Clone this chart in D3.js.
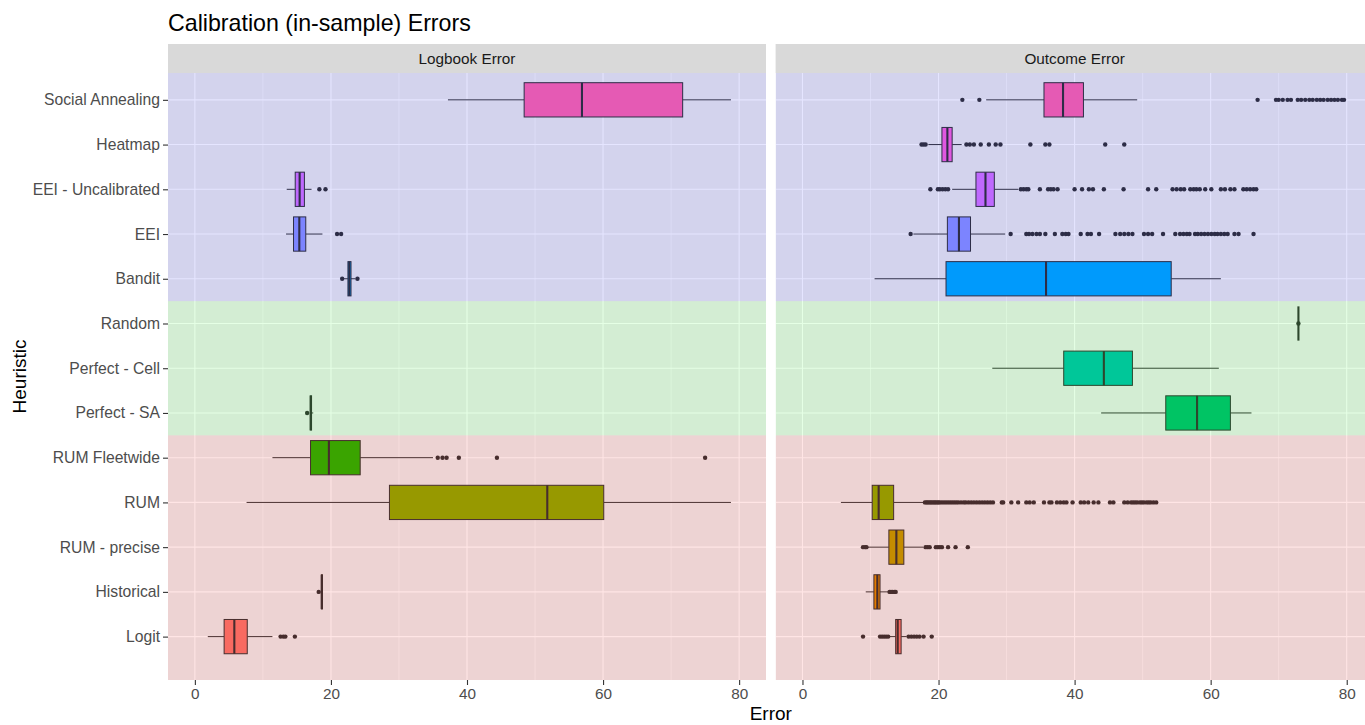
<!DOCTYPE html>
<html>
<head>
<meta charset="utf-8">
<script src="https://cdn.jsdelivr.net/npm/d3@7"></script>
<style>
  html, body { margin: 0; padding: 0; background: #ffffff; }
  svg { display: block; font-family: "Liberation Sans", Arial, sans-serif; }
</style>
</head>
<body>
<div class="container"></div>
<script>
// categories, bottom to top as ggplot draws them
const heuristics = ["Logit", "Historical", "RUM - precise", "RUM", "RUM Fleetwide",
  "Perfect - SA", "Perfect - Cell", "Random", "Bandit", "EEI", "EEI - Uncalibrated",
  "Heatmap", "Social Annealing"];
const panelNames = ["Logbook Error", "Outcome Error"];
const xTicks = [0, 20, 40, 60, 80];
const xMinorTicks = [10, 30, 50, 70];

// [lower whisker, Q1, median, Q3, upper whisker] per heuristic (null = no data)
const logbookStats = [
  [1.9, 4.3, 5.8, 7.7, 11.4],
  [18.5, 18.6, 18.65, 18.75, 18.8],
  null,
  [7.6, 28.6, 51.8, 60.1, 78.8],
  [11.4, 17.0, 19.7, 24.3, 35.0],
  [16.9, 16.95, 17.05, 17.15, 17.4],
  null,
  null,
  [21.9, 22.5, 22.7, 22.95, 23.6],
  [13.4, 14.5, 15.35, 16.3, 18.75],
  [13.5, 14.75, 15.4, 16.1, 17.15],
  null,
  [37.2, 48.4, 56.9, 71.7, 78.8]
];
const logbookOutliers = [
  [12.6, 13.0, 13.3, 14.7],
  [18.2],
  [],
  [],
  [35.7, 36.4, 37.0, 38.8, 44.4, 75.0],
  [16.5],
  [],
  [],
  [21.65, 23.9],
  [20.9, 21.5],
  [18.3, 19.2],
  [],
  []
];

const outcomeStats = [
  [12.75, 13.7, 14.0, 14.5, 15.3],
  [9.3, 10.5, 11.0, 11.4, 12.6],
  [9.6, 12.7, 13.8, 14.9, 17.75],
  [5.65, 10.25, 11.2, 13.4, 17.85],
  null,
  [43.9, 53.4, 58.0, 62.9, 66.0],
  [27.9, 38.4, 44.3, 48.5, 61.2],
  [72.9, 72.9, 72.9, 72.9, 72.9],
  [10.6, 21.1, 35.8, 54.2, 61.5],
  [16.3, 21.3, 23.0, 24.7, 29.8],
  [22.0, 25.5, 26.9, 28.2, 31.7],
  [18.5, 20.5, 21.3, 22.0, 23.4],
  [27.0, 35.5, 38.3, 41.3, 49.2]
];
const outcomeOutliers = [
  [8.9, 11.4, 11.7, 12.0, 12.3, 12.6, 15.6, 16.0, 16.4, 16.8, 17.2, 17.8, 19.0],
  [12.8, 13.0, 13.2, 13.5, 13.7],
  [8.9, 9.2, 9.4, 18.1, 18.4, 18.7, 19.6, 19.9, 20.2, 20.5, 21.4, 22.5, 24.3],
  [18.0, 18.2, 18.4, 18.6, 18.8, 19.0, 19.2, 19.4, 19.6, 19.8, 20.0, 20.2, 20.5,
   20.8, 21.1, 21.4, 21.7, 22.0, 22.3, 22.6, 22.9, 23.3, 23.7, 24.0, 24.4, 24.8,
   25.2, 25.6, 26.0, 26.4, 26.8, 27.2, 27.6, 28.0, 29.3, 29.5, 30.7, 31.7, 32.9,
   33.4, 34.0, 35.5, 36.3, 36.6, 37.4, 37.9, 38.4, 38.8, 39.7, 40.9, 41.4, 42.0,
   42.8, 43.5, 45.2, 45.7, 47.3, 47.8, 48.3, 48.6, 48.9, 49.2, 49.6, 49.9, 50.2,
   50.6, 50.9, 51.2, 51.6, 52.0],
  [],
  [],
  [],
  [72.9],
  [],
  [15.9, 30.6, 32.9, 33.3, 33.8, 34.4, 34.9, 35.7, 37.1, 38.2, 38.7, 39.1, 40.9,
   41.9, 42.4, 43.6, 46.0, 46.7, 47.3, 47.9, 48.5, 50.2, 50.8, 51.4, 53.0, 54.8,
   55.5, 56.0, 56.5, 56.9, 57.7, 58.1, 58.6, 59.1, 59.6, 60.1, 60.6, 61.0, 61.5,
   62.0, 62.5, 63.5, 64.1, 66.3],
  [18.8, 19.9, 20.2, 20.6, 21.0, 21.4, 32.1, 32.5, 32.9, 33.2, 34.9, 36.1, 36.5,
   36.9, 37.5, 40.0, 41.1, 42.1, 42.7, 44.3, 47.2, 50.8, 52.0, 54.4, 55.0, 55.6,
   56.1, 57.0, 57.5, 57.9, 58.4, 59.2, 60.1, 61.5, 62.1, 62.9, 63.5, 64.8, 65.3,
   65.8, 66.3, 66.7],
  [17.5, 17.8, 18.1, 24.1, 24.6, 25.2, 26.2, 27.4, 28.4, 29.1, 33.5, 35.7, 36.3,
   44.5, 47.3],
  [23.5, 26.0, 66.9, 69.6, 70.0, 70.6, 71.3, 71.8, 72.8, 73.3, 73.9, 74.5, 75.0,
   75.6, 76.1, 76.6, 77.2, 77.7, 78.2, 78.7, 79.3, 79.6]
];

// shaded groups, in category-position units (1 = Logit)
const bandEdges = [0, 5.5, 8.5, 14];
const bandColors = ["#FF0000", "#00FF00", "#0000FF"];

// ggplot2 default hue palette for 13 levels
const fillColors = ["#F8766D", "#E18A00", "#BE9C00", "#8CAB00", "#24B700", "#00BE70",
  "#00C1AB", "#00BBDA", "#00ACFC", "#8B93FF", "#D575FE", "#F962DD", "#FF65AC"];

const width = 1365, height = 725;
const panelTop = 73, panelBottom = 680, stripTop = 44;
const panelW = 598, panelLefts = [168, 775.6];

const svg = d3.select(".container")
  .append("svg")
  .attr("width", width)
  .attr("height", height);

const yPos = d3.scaleLinear()
  .domain([0.03, 13.6])
  .range([panelBottom, panelTop]);

const yCat = d3.scalePoint()
  .domain(heuristics)
  .range([yPos(1), yPos(heuristics.length)]);

const step = yPos(1) - yPos(2);
const boxH = step * 0.766;

const panelStats = [logbookStats, outcomeStats];
const panelOutliers = [logbookOutliers, outcomeOutliers];

panelNames.forEach(function(name, p) {
  const left = panelLefts[p];
  const x = d3.scaleLinear()
    .domain([-3.95, 83.95])
    .range([left, left + panelW]);

  svg.append("clipPath")
    .attr("id", "clip" + p)
    .append("rect")
    .attr("x", left).attr("y", panelTop)
    .attr("width", panelW).attr("height", panelBottom - panelTop);

  const g = svg.append("g").attr("clip-path", "url(#clip" + p + ")");

  g.append("rect")
    .attr("x", left).attr("y", panelTop)
    .attr("width", panelW).attr("height", panelBottom - panelTop)
    .attr("fill", "#EBEBEB");

  g.selectAll(".minor")
    .data(xMinorTicks)
    .enter().append("line")
    .attr("x1", function(d) { return x(d); })
    .attr("x2", function(d) { return x(d); })
    .attr("y1", panelTop).attr("y2", panelBottom)
    .attr("stroke", "#ffffff").attr("stroke-width", 0.55);

  g.selectAll(".majorx")
    .data(xTicks)
    .enter().append("line")
    .attr("x1", function(d) { return x(d); })
    .attr("x2", function(d) { return x(d); })
    .attr("y1", panelTop).attr("y2", panelBottom)
    .attr("stroke", "#ffffff").attr("stroke-width", 1.1);

  g.selectAll(".majory")
    .data(heuristics)
    .enter().append("line")
    .attr("x1", left).attr("x2", left + panelW)
    .attr("y1", function(d) { return yCat(d); })
    .attr("y2", function(d) { return yCat(d); })
    .attr("stroke", "#ffffff").attr("stroke-width", 1.1);

  const rows = heuristics.map(function(h, i) {
    return { name: h, i: i, s: panelStats[p][i], out: panelOutliers[p][i] };
  }).filter(function(d) { return d.s !== null; });

  const box = g.selectAll(".box")
    .data(rows)
    .enter().append("g");

  box.append("line")
    .attr("x1", function(d) { return x(d.s[0]); })
    .attr("x2", function(d) { return x(d.s[1]); })
    .attr("y1", function(d) { return yCat(d.name); })
    .attr("y2", function(d) { return yCat(d.name); })
    .attr("stroke", "#333333").attr("stroke-width", 1);

  box.append("line")
    .attr("x1", function(d) { return x(d.s[3]); })
    .attr("x2", function(d) { return x(d.s[4]); })
    .attr("y1", function(d) { return yCat(d.name); })
    .attr("y2", function(d) { return yCat(d.name); })
    .attr("stroke", "#333333").attr("stroke-width", 1);

  box.append("rect")
    .attr("x", function(d) { return x(d.s[1]); })
    .attr("y", function(d) { return yCat(d.name) - boxH / 2; })
    .attr("width", function(d) { return x(d.s[3]) - x(d.s[1]); })
    .attr("height", boxH)
    .attr("fill", function(d) { return fillColors[d.i]; })
    .attr("stroke", "#333333").attr("stroke-width", 1);

  box.append("line")
    .attr("x1", function(d) { return x(d.s[2]); })
    .attr("x2", function(d) { return x(d.s[2]); })
    .attr("y1", function(d) { return yCat(d.name) - boxH / 2; })
    .attr("y2", function(d) { return yCat(d.name) + boxH / 2; })
    .attr("stroke", "#333333").attr("stroke-width", 2.1);

  box.selectAll("circle")
    .data(function(d) { return d.out.map(function(v) { return { v: v, name: d.name }; }); })
    .enter().append("circle")
    .attr("cx", function(d) { return x(d.v); })
    .attr("cy", function(d) { return yCat(d.name); })
    .attr("r", 2.2)
    .attr("fill", "#333333");

  // translucent group shading drawn over everything, as in the original
  g.selectAll(".band")
    .data(bandColors)
    .enter().append("rect")
    .attr("x", left).attr("width", panelW)
    .attr("y", function(d, k) { return yPos(bandEdges[k + 1]); })
    .attr("height", function(d, k) { return yPos(bandEdges[k]) - yPos(bandEdges[k + 1]); })
    .attr("fill", function(d) { return d; })
    .attr("fill-opacity", 0.1);

  // strip
  svg.append("rect")
    .attr("x", left).attr("y", stripTop)
    .attr("width", panelW).attr("height", panelTop - stripTop)
    .attr("fill", "#D9D9D9");
  svg.append("text")
    .attr("x", left + panelW / 2)
    .attr("y", (stripTop + panelTop) / 2)
    .attr("dy", "0.36em")
    .attr("text-anchor", "middle")
    .attr("font-size", "15.3px")
    .attr("fill", "#1A1A1A")
    .text(name);

  const xAxis = svg.append("g")
    .attr("transform", "translate(0," + panelBottom + ")")
    .call(d3.axisBottom(x).tickValues(xTicks).tickSize(5).tickPadding(3));
  xAxis.select(".domain").remove();
  xAxis.selectAll(".tick line").attr("stroke", "#333333").attr("stroke-width", 1.1);
  xAxis.selectAll(".tick text")
    .attr("fill", "#4D4D4D")
    .attr("font-size", "15.3px")
    .attr("font-family", "Liberation Sans, Arial, sans-serif");
});

const yAxis = svg.append("g")
  .attr("transform", "translate(" + panelLefts[0] + ",0)")
  .call(d3.axisLeft(yCat).tickSize(5).tickPadding(3));
yAxis.select(".domain").remove();
yAxis.selectAll(".tick line").attr("stroke", "#333333").attr("stroke-width", 1.1);
yAxis.selectAll(".tick text")
  .attr("fill", "#4D4D4D")
  .attr("font-size", "15.7px")
  .attr("font-family", "Liberation Sans, Arial, sans-serif");

svg.append("text")
  .attr("x", panelLefts[0])
  .attr("y", 30.5)
  .attr("font-size", "23.2px")
  .attr("fill", "#000000")
  .text("Calibration (in-sample) Errors");

svg.append("text")
  .attr("x", (panelLefts[0] + panelLefts[1] + panelW) / 2)
  .attr("y", 720)
  .attr("text-anchor", "middle")
  .attr("font-size", "19px")
  .attr("fill", "#000000")
  .text("Error");

svg.append("text")
  .attr("transform", "translate(26," + ((panelTop + panelBottom) / 2) + ") rotate(-90)")
  .attr("text-anchor", "middle")
  .attr("font-size", "19px")
  .attr("fill", "#000000")
  .text("Heuristic");
</script>
</body>
</html>
